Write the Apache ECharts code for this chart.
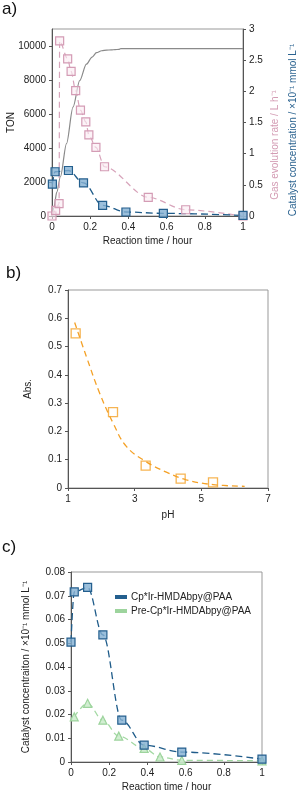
<!DOCTYPE html>
<html><head><meta charset="utf-8">
<script src="https://cdn.jsdelivr.net/npm/echarts@6/dist/echarts.min.js"></script>
<style>html,body{margin:0;padding:0;background:#fff}#c{width:301px;height:794px}</style>
</head><body><div id="c"></div>
<script>
// ---- Panel a data ----
const tonTime = [0, 0.01, 0.025, 0.044, 0.076, 0.11, 0.145, 0.18, 0.21, 0.233, 0.26, 0.286, 0.31, 0.33, 0.35, 0.36, 1];
const tonValues = [0, 500, 1400, 2310, 4260, 6400, 7960, 8930, 9350, 9610, 9720, 9760, 9770, 9790, 9800, 9850, 9850];
const gasTime = [0, 0.019, 0.037, 0.040, 0.082, 0.10, 0.124, 0.149, 0.177, 0.193, 0.23, 0.275, 0.504, 0.70, 1.0];
const gasRate = [0, 0.09, 0.2, 2.81, 2.52, 2.32, 2.01, 1.70, 1.51, 1.30, 1.10, 0.79, 0.30, 0.10, 0];
const catTimeA = [0.002, 0.016, 0.086, 0.165, 0.265, 0.387, 0.583, 1.0];
const catConcA = [0.51, 0.71, 0.73, 0.53, 0.17, 0.064, 0.042, 0.01];
// ---- Panel b data ----
const pHPoints = [1.23, 2.35, 3.33, 4.38, 5.35];
const absPoints = [0.547, 0.268, 0.079, 0.033, 0.020];
const pHCurve = [1.2, 1.55, 1.95, 2.35, 2.75, 3.33, 3.95, 4.55, 5.35, 6.3];
const absCurve = [0.585, 0.465, 0.335, 0.23, 0.147, 0.094, 0.056, 0.029, 0.012, 0.006];
// ---- Panel c data ----
const catTimeC = [0, 0.017, 0.087, 0.167, 0.266, 0.383, 0.58, 1.0];
const catConcC = [0.0505, 0.0716, 0.0735, 0.0535, 0.0176, 0.0071, 0.0042, 0.0012];
const preTimeC = [0.017, 0.087, 0.167, 0.25, 0.383, 0.466, 0.58, 1.0];
const preConcC = [0.019, 0.0247, 0.0176, 0.0109, 0.0057, 0.0021, 0.0007, 0.0005];
const pHTicks = [1, 3, 5, 7];

const FF = '"Liberation Sans", Arial, sans-serif';
const zip = (a, b) => a.map((v, i) => [v, b[i]]);
const plain = v => String(v);
const axisBase = (extra) => Object.assign({
  axisLine: {show: true, lineStyle: {color: '#555', width: 1}},
  axisTick: {show: true, length: 3, inside: false, lineStyle: {color: '#555'}},
  axisLabel: {fontSize: 10, color: '#222', fontFamily: FF, margin: 6, formatter: plain},
  splitLine: {show: false},
  nameLocation: 'middle',
  nameMoveOverlap: false,
  nameTextStyle: {fontSize: 10, color: '#222', fontFamily: FF}
}, extra);

const chart = echarts.init(document.getElementById('c'), null, {renderer: 'canvas'});
const option = {
  animation: false,
  textStyle: {fontFamily: FF},
  grid: [
    {left: 52, right: 58, top: 29, height: 187, show: true, borderColor: '#999', borderWidth: 1, outerBoundsMode: 'none', containLabel: false},
    {left: 68, right: 33, top: 290, height: 198, show: true, borderColor: '#999', borderWidth: 1, outerBoundsMode: 'none', containLabel: false},
    {left: 71, right: 39, top: 572, height: 190, show: true, borderColor: '#999', borderWidth: 1, outerBoundsMode: 'none', containLabel: false}
  ],
  xAxis: [
    axisBase({type: 'value', gridIndex: 0, min: 0, max: 1, interval: 0.2, name: 'Reaction time / hour', nameGap: 20}),
    axisBase({type: 'value', gridIndex: 1, min: 1, max: 7, name: 'pH', nameGap: 22,
      axisLabel: {fontSize: 10, color: '#222', fontFamily: FF, margin: 6, customValues: pHTicks},
      axisTick: {show: true, length: 3, lineStyle: {color: '#555'}, customValues: pHTicks}}),
    axisBase({type: 'value', gridIndex: 2, min: 0, max: 1, interval: 0.2, name: 'Reaction time / hour', nameGap: 20})
  ],
  yAxis: [
    axisBase({type: 'value', gridIndex: 0, min: 0, max: 11000, interval: 2000, name: 'TON', nameGap: 36,
      axisLabel: {fontSize: 10, color: '#222', fontFamily: FF, margin: 6, showMaxLabel: false, formatter: plain}}),
    axisBase({type: 'value', gridIndex: 0, position: 'right', min: 0, max: 3, interval: 0.5}),
    axisBase({type: 'value', gridIndex: 1, min: 0, max: 0.7, interval: 0.1, name: 'Abs.', nameGap: 35}),
    axisBase({type: 'value', gridIndex: 2, min: 0, max: 0.08, interval: 0.01,
      name: 'Catalyst concentraiton / \u00d710\u207b\u00b9 mmol L\u207b\u00b9', nameGap: 40})
  ],
  legend: {
    data: ['Cp*Ir-HMDAbpy@PAA', 'Pre-Cp*Ir-HMDAbpy@PAA'],
    orient: 'vertical', left: 110, top: 587, itemGap: 4, itemWidth: 10, itemHeight: 2,
    icon: 'rect', textStyle: {fontSize: 10, color: '#222', fontFamily: FF}
  },
  graphic: [
    {type: 'text', left: 2, top: 1, style: {text: 'a)', fontSize: 17, fill: '#111', fontFamily: FF}},
    {type: 'text', left: 6, top: 265, style: {text: 'b)', fontSize: 17, fill: '#111', fontFamily: FF}},
    {type: 'text', left: 2, top: 539, style: {text: 'c)', fontSize: 17, fill: '#111', fontFamily: FF}},
    {type: 'text', x: 275, y: 145, rotation: Math.PI / 2,
      style: {text: 'Gas evolution rate / L h\u207b\u00b9', fontSize: 10, fill: '#d39bb3', fontFamily: FF, align: 'center', verticalAlign: 'middle'}},
    {type: 'text', x: 293, y: 130, rotation: Math.PI / 2,
      style: {text: 'Catalyst concentration / \u00d710\u207b\u00b9 mmol L\u207b\u00b9', fontSize: 10, fill: '#2b6390', fontFamily: FF, align: 'center', verticalAlign: 'middle'}}
  ],
  series: [
    {name: 'TON', type: 'line', xAxisIndex: 0, yAxisIndex: 0, data: zip(tonTime, tonValues), smooth: 0.3, smoothMonotone: 'x',
      showSymbol: false, lineStyle: {color: '#8a8a8a', width: 1.2}},
    {name: 'Gas', type: 'line', xAxisIndex: 0, yAxisIndex: 1, data: zip(gasTime, gasRate), smooth: 0.3, smoothMonotone: 'x',
      symbol: 'rect', symbolSize: 8, showSymbol: true,
      lineStyle: {color: '#d7a3ba', width: 1.2, type: [6, 4]},
      itemStyle: {color: 'rgba(250,235,242,0.6)', borderColor: '#d49cb5', borderWidth: 1.2}},
    {name: 'CatA', type: 'line', xAxisIndex: 0, yAxisIndex: 1, data: zip(catTimeA, catConcA), smooth: 0.35, smoothMonotone: 'x',
      symbol: 'rect', symbolSize: 8, showSymbol: true,
      lineStyle: {color: '#1f5c8a', width: 1.3, type: [7, 4]},
      itemStyle: {color: 'rgba(130,175,210,0.8)', borderColor: '#245f8e', borderWidth: 1.2}},
    {name: 'AbsFit', type: 'line', xAxisIndex: 1, yAxisIndex: 2, data: zip(pHCurve, absCurve), smooth: 0.4,
      showSymbol: false, lineStyle: {color: '#f4a127', width: 1.3, type: [6, 4]}},
    {name: 'Abs', type: 'scatter', xAxisIndex: 1, yAxisIndex: 2, data: zip(pHPoints, absPoints),
      symbol: 'rect', symbolSize: 9, itemStyle: {color: 'rgba(255,255,255,0.9)', borderColor: '#f4a127', borderWidth: 1.3}},
    {name: 'Pre-Cp*Ir-HMDAbpy@PAA', type: 'line', xAxisIndex: 2, yAxisIndex: 3, data: zip(preTimeC, preConcC), smooth: 0.35, smoothMonotone: 'x',
      symbol: 'triangle', symbolSize: 8, showSymbol: true, color: '#a3d9a3',
      lineStyle: {color: '#a3d9a3', width: 1.3, type: [6, 4]},
      itemStyle: {color: 'rgba(205,236,205,0.9)', borderColor: '#9dd49d', borderWidth: 1.2}},
    {name: 'Cp*Ir-HMDAbpy@PAA', type: 'line', xAxisIndex: 2, yAxisIndex: 3, data: zip(catTimeC, catConcC), smooth: 0.35, smoothMonotone: 'x',
      symbol: 'rect', symbolSize: 8, showSymbol: true, color: '#1f5c8a',
      lineStyle: {color: '#1f5c8a', width: 1.3, type: [7, 4]},
      itemStyle: {color: 'rgba(130,175,210,0.8)', borderColor: '#245f8e', borderWidth: 1.2}}
  ]
};
chart.setOption(option);
</script></body></html>
